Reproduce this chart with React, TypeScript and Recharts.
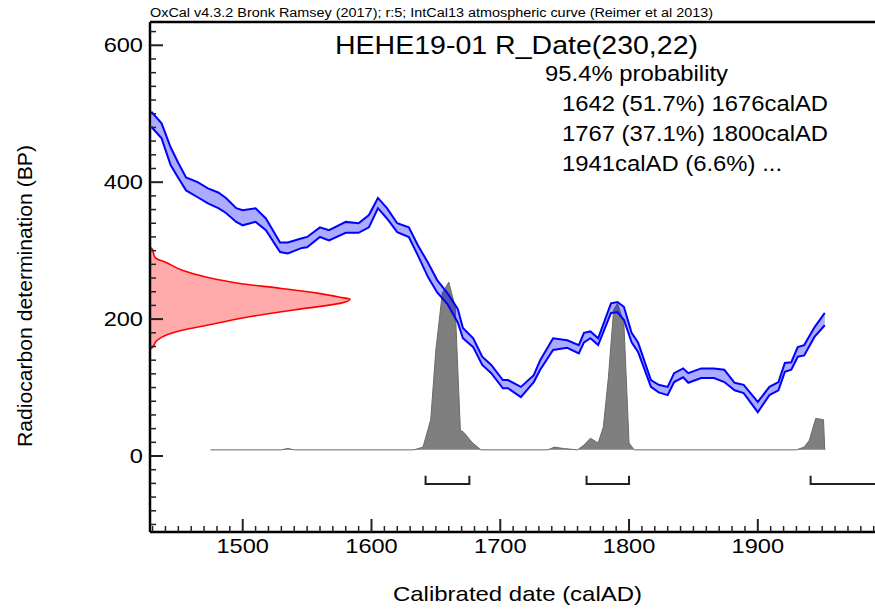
import React from "react";
import { ComposedChart, Area, Line, XAxis, YAxis, ReferenceLine } from "recharts";

const FONT = '"Liberation Sans", Arial, Helvetica, sans-serif';

// calibration curve (IntCal13), upper and lower edge of the 1-sigma band
const curveYears = [
  1429, 1437, 1444, 1450, 1456, 1465, 1473, 1481, 1487, 1495, 1500, 1510, 1518,
  1529, 1535, 1546, 1550, 1560, 1567, 1580, 1590, 1598, 1605, 1612, 1620, 1629,
  1636, 1644, 1651, 1659, 1667, 1671, 1679, 1686, 1693, 1702, 1706, 1716, 1726,
  1731, 1741, 1752, 1761, 1765, 1770, 1776, 1786, 1791, 1796, 1802, 1807, 1817,
  1823, 1830, 1835, 1842, 1846, 1856, 1866, 1874, 1882, 1889, 1900, 1909, 1916,
  1921, 1926, 1931, 1936, 1944, 1952,
];
const curveUpper = [
  503, 486, 451, 428, 407, 400, 391, 385, 377, 362, 359, 362, 347,
  312, 312, 318, 320, 334, 330, 342, 340, 352, 377, 362, 340, 334,
  308, 282, 257, 238, 215, 187, 172, 145, 133, 111, 111, 101, 118,
  140, 172, 169, 162, 180, 182, 172, 223, 225, 218, 180, 166, 111,
  104, 101, 121, 128, 121, 128, 128, 126, 107, 104, 79, 101, 108,
  136, 137, 159, 162, 188, 209,
];
const curveLower = [
  481, 464, 425, 406, 388, 378, 369, 362, 355, 342, 337, 342, 330,
  298, 296, 304, 305, 320, 315, 326, 326, 334, 362, 347, 327, 320,
  293, 261, 239, 222, 195, 172, 159, 133, 121, 99, 99, 86, 108,
  126, 155, 158, 150, 166, 172, 162, 209, 210, 199, 166, 152, 101,
  93, 89, 108, 115, 107, 114, 114, 108, 96, 92, 64, 89, 96,
  123, 126, 145, 147, 174, 191,
];

// calibrated probability distribution (grey), drawn on the BP scale
const probYears = [
  1475, 1530, 1535, 1540, 1633, 1640, 1646, 1650, 1655, 1660, 1665, 1669, 1672,
  1678, 1685, 1737, 1742, 1749, 1760, 1765, 1770, 1776, 1780, 1784, 1788, 1791,
  1796, 1800, 1804, 1930, 1936, 1940, 1945, 1951, 1952,
];
const probValues = [
  9, 9, 11, 9, 9, 13, 53, 155, 238, 254, 218, 38, 34,
  20, 9, 9, 13, 11, 9, 16, 26, 19, 42, 115, 213, 223,
  194, 19, 9, 9, 13, 23, 55, 53, 9,
];

// radiocarbon date R_Date(230,22), relative probability
const dateBP = [156, 158, 169, 177, 184, 191, 201, 209, 216, 223, 229, 232, 238, 245, 252, 261, 271, 282, 290, 303, 305];
const dateProb = [0, 0.01, 0.035, 0.085, 0.165, 0.285, 0.45, 0.615, 0.785, 0.95, 1.0, 0.95, 0.835, 0.65, 0.45, 0.285, 0.165, 0.085, 0.025, 0.01, 0];

// 95.4% ranges
const rangeStarts = [1642, 1767, 1941];
const rangeEnds = [1676, 1800, 2000];

const yMajor = [0, 200, 400, 600];
const xMajor = [1500, 1600, 1700, 1800, 1900];
const yTicks = Array.from({ length: 37 }, (_, i) => -100 + i * 20);
const xTicks = Array.from({ length: 57 }, (_, i) => 1430 + i * 10);

const curveData = curveYears.map((year, i) => ({ year, band: [curveLower[i], curveUpper[i]] }));
const probData = probYears.map((year, i) => ({ year, p: probValues[i] }));
const dateData = dateBP.map((bp, i) => ({ bp, p: dateProb[i] }));
const bracketData = rangeStarts.map((s, i) => [
  { year: s, bp: -29 },
  { year: s, bp: -41 },
  { year: rangeEnds[i], bp: -41 },
  { year: rangeEnds[i], bp: -29 },
]);

const YTick = (props: any) => {
  const { x, y, payload } = props;
  const major = yMajor.includes(payload.value);
  return (
    <g>
      <line x1={x} x2={x + (major ? 13 : 6)} y1={y} y2={y} stroke="#222" strokeWidth={major ? 2 : 1.5} />
      {major && (
        <text transform={`translate(${x - 7} ${y + 7}) scale(1.18 1)`} textAnchor="end" fontSize={20} fontFamily={FONT} fill="#000">
          {payload.value}
        </text>
      )}
    </g>
  );
};

const XTick = (props: any) => {
  const { x, y, payload } = props;
  const major = xMajor.includes(payload.value);
  return (
    <g>
      <line x1={x} x2={x} y1={y} y2={y - (major ? 13 : 6)} stroke="#222" strokeWidth={major ? 2 : 1.5} />
      {major && (
        <text transform={`translate(${x} ${y + 21}) scale(1.18 1)`} textAnchor="middle" fontSize={20} fontFamily={FONT} fill="#000">
          {payload.value}
        </text>
      )}
    </g>
  );
};

const abs: React.CSSProperties = { position: "absolute", left: 0, top: 0 };

export default function App() {
  return (
    <div style={{ position: "absolute", left: 0, top: 0, width: 875, height: 612, background: "#fff", overflow: "hidden" }}>
      <ComposedChart layout="vertical" width={875} height={612} data={dateData} margin={{ top: 22, right: 0, bottom: 80, left: 150 }} style={abs}>
        <XAxis type="number" domain={[0, 3.625]} allowDataOverflow hide />
        <YAxis type="number" dataKey="bp" domain={[-111, 634]} allowDataOverflow reversed hide />
        <Area dataKey="p" type="monotone" fill="#ffabab" fillOpacity={1} stroke="#ff0000" strokeWidth={1.6} isAnimationActive={false} />
      </ComposedChart>

      <ComposedChart width={875} height={612} margin={{ top: 22, right: 0, bottom: 40, left: 0 }} style={abs}>
        <XAxis
          type="number"
          dataKey="year"
          domain={[1428, 1991]}
          allowDataOverflow
          ticks={xTicks}
          interval={0}
          tick={<XTick />}
          tickLine={false}
          tickSize={0}
          tickMargin={0}
          axisLine={{ stroke: "#000", strokeWidth: 2.5 }}
          height={40}
        />
        <YAxis
          type="number"
          domain={[-111, 634]}
          allowDataOverflow
          ticks={yTicks}
          interval={0}
          tick={<YTick />}
          tickLine={false}
          tickSize={0}
          tickMargin={0}
          axisLine={{ stroke: "#000", strokeWidth: 2.5 }}
          width={150}
        />
        <ReferenceLine y={634} stroke="#000" strokeWidth={2.5} />
        <Area data={probData} dataKey="p" baseValue={9} type="linear" fill="#7f7f7f" fillOpacity={1} stroke="#6a6a6a" strokeWidth={1} isAnimationActive={false} />
        <Area data={curveData} dataKey="band" type="linear" fill="#0000ff" fillOpacity={0.33} stroke="#0000ff" strokeWidth={2} isAnimationActive={false} />
        {bracketData.map((d, i) => (
          <Line key={i} data={d} dataKey="bp" type="linear" stroke="#222" strokeWidth={2} dot={false} isAnimationActive={false} />
        ))}
      </ComposedChart>

      <svg width={875} height={612} style={{ ...abs, pointerEvents: "none" }} fontFamily={FONT} fill="#000">
        <text x={150} y={17} fontSize={12} textLength={563} lengthAdjust="spacingAndGlyphs">
          OxCal v4.3.2 Bronk Ramsey (2017); r:5; IntCal13 atmospheric curve (Reimer et al 2013)
        </text>
        <text x={335} y={54} fontSize={26} textLength={363} lengthAdjust="spacingAndGlyphs">HEHE19-01 R_Date(230,22)</text>
        <text x={545} y={81} fontSize={22} textLength={183} lengthAdjust="spacingAndGlyphs">95.4% probability</text>
        <text x={562} y={111} fontSize={22} textLength={266} lengthAdjust="spacingAndGlyphs">1642 (51.7%) 1676calAD</text>
        <text x={562} y={141} fontSize={22} textLength={266} lengthAdjust="spacingAndGlyphs">1767 (37.1%) 1800calAD</text>
        <text x={562} y={171} fontSize={22} textLength={220} lengthAdjust="spacingAndGlyphs">1941calAD (6.6%) ...</text>
        <text x={393} y={601} fontSize={21} textLength={249} lengthAdjust="spacingAndGlyphs">Calibrated date (calAD)</text>
        <text transform="translate(32 447) rotate(-90)" fontSize={21} textLength={302} lengthAdjust="spacingAndGlyphs">
          Radiocarbon determination (BP)
        </text>
      </svg>
    </div>
  );
}
